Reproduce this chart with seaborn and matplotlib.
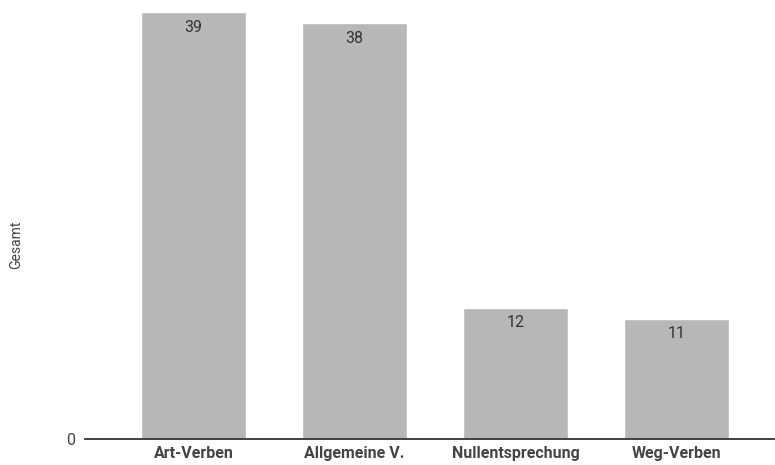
import matplotlib.pyplot as plt
import pandas as pd
import seaborn as sns

# Gesamt per category
categories = ['Art-Verben', 'Allgemeine V.', 'Nullentsprechung', 'Weg-Verben']
values = [39, 38, 12, 11]

df = pd.DataFrame({'kategorie': categories, 'gesamt': values})

sns.set_theme(style='white')
plt.rcParams['font.family'] = ['Roboto', 'DejaVu Sans']

fig = plt.figure(figsize=(7.75, 4.65), dpi=100)
ax = fig.add_axes([0.1097, 0.0559, 0.8890, 0.9441])

sns.barplot(data=df, x='kategorie', y='gesamt', color='#b7b7b7', width=0.65,
            saturation=1, ax=ax)

# value labels inside top of each bar
for bar, v in zip(ax.patches, values):
    ax.annotate(str(v), (bar.get_x() + bar.get_width() / 2, bar.get_height()),
                xytext=(0, -5.5), textcoords='offset points',
                ha='center', va='top', fontsize=11.5, color='#333333')

ax.set_xlim(-0.675, 3.607)
ax.set_ylim(0, 40.1)
ax.set_yticks([0])
ax.set_yticklabels(['0'], fontsize=11.5, color='#444444')
ax.tick_params(axis='y', length=0, pad=7)
ax.tick_params(axis='x', length=0, pad=5)
for lbl in ax.get_xticklabels():
    lbl.set_fontsize(11.5)
    lbl.set_fontweight('bold')
    lbl.set_color('#444444')

ax.set_xlabel('')
ax.set_ylabel('Gesamt', fontsize=10, color='#444444')
ax.yaxis.set_label_coords(-0.09, 0.442)

for side in ['top', 'right', 'left']:
    ax.spines[side].set_visible(False)
ax.spines['bottom'].set_color('#333333')
ax.spines['bottom'].set_linewidth(1.3)

fig.savefig('out.png', dpi=100)
